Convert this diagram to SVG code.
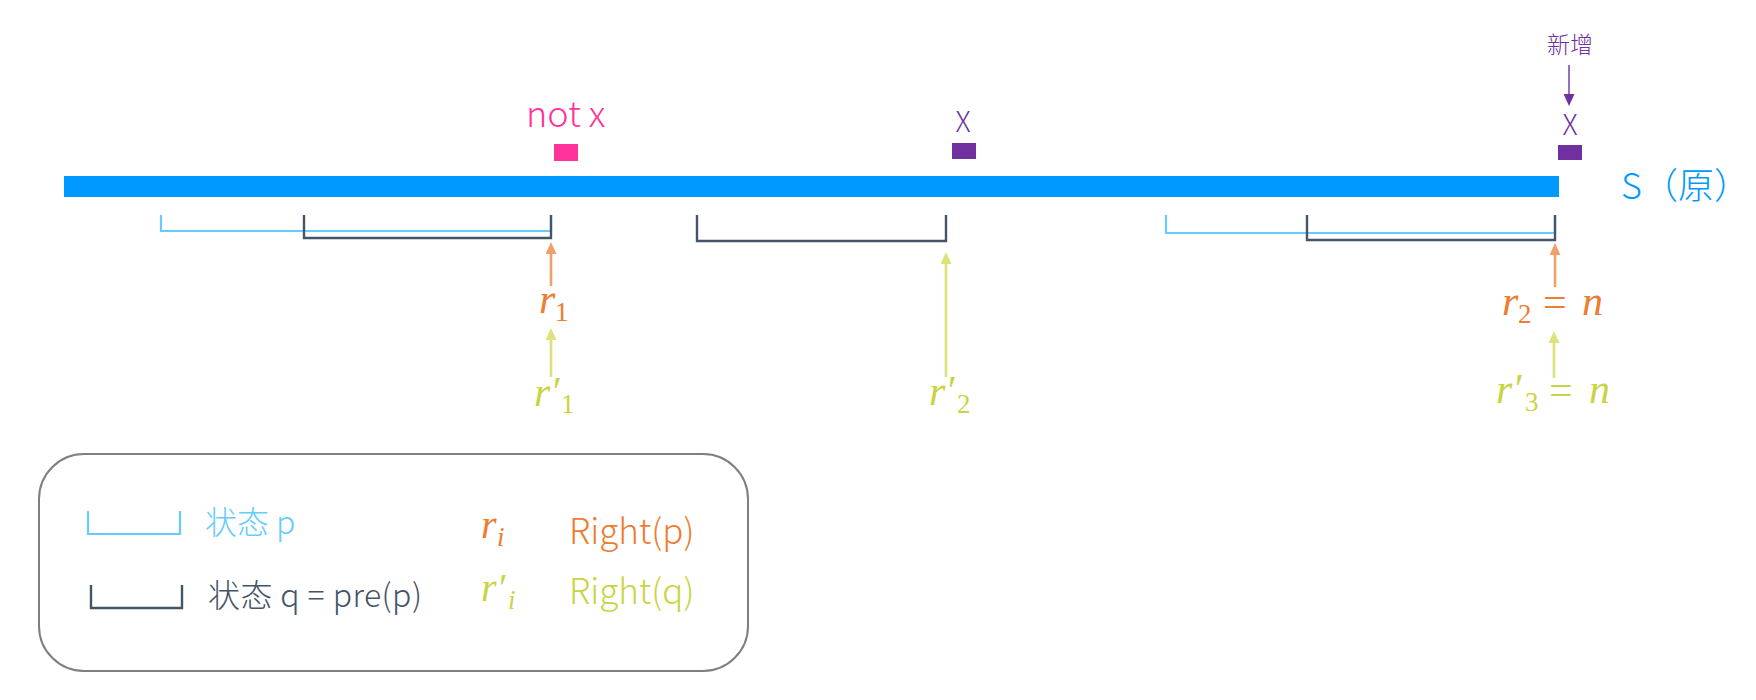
<svg xmlns="http://www.w3.org/2000/svg" width="1756" height="700" viewBox="0 0 1756 700">
<style>
.sans{font-family:"Noto Sans CJK SC","Noto Sans",sans-serif;font-weight:300}
.math{font-family:"Liberation Serif","DejaVu Serif",serif;font-style:italic}
.sub{font-family:"Liberation Serif","DejaVu Serif",serif;font-style:normal}
.or{fill:#ED7D31}
.gr{fill:#CAD443}
.pu{fill:#7030A0}
.bl{fill:none;stroke:#66CCFF;stroke-width:2.2}
.dk{fill:none;stroke:#44546A;stroke-width:2.4}
.ao{stroke:#F2A06B;stroke-width:2.6;fill:none}
.ag{stroke:#DDE27A;stroke-width:2.6;fill:none}
.ap{stroke:#7030A0;stroke-width:1.4;fill:none}
</style>
<defs>
<marker id="hO" viewBox="0 0 12 11" markerWidth="12" markerHeight="11" refX="6" refY="5.5" orient="auto" markerUnits="userSpaceOnUse"><path d="M0,0 L12,5.5 L0,11 z" fill="#F2A06B"/></marker>
<marker id="hG" viewBox="0 0 12 11" markerWidth="12" markerHeight="11" refX="6" refY="5.5" orient="auto" markerUnits="userSpaceOnUse"><path d="M0,0 L12,5.5 L0,11 z" fill="#DDE27A"/></marker>
<marker id="hP" viewBox="0 0 12 11" markerWidth="12" markerHeight="11" refX="6" refY="5.5" orient="auto" markerUnits="userSpaceOnUse"><path d="M0,0 L12,5.5 L0,11 z" fill="#7030A0"/></marker>
</defs>
<rect width="1756" height="700" fill="#FFFFFF"/>

<g id="string-S">
<rect x="64" y="176" width="1495" height="21" fill="#0099FF"/>
<text x="1621" y="199" class="sans" font-size="36" fill="#0099FF">S（原）</text>
</g>

<g id="mark-notx">
<text x="526" y="127" class="sans" font-size="36" fill="#FF3399">not x</text>
<rect x="554" y="144" width="24" height="17" fill="#FF3399"/>
</g>

<g id="mark-x-mid">
<text x="963" y="132" class="sans pu" font-size="28" text-anchor="middle">X</text>
<rect x="952" y="143" width="24" height="16" fill="#7030A0"/>
</g>

<g id="mark-x-new">
<text x="1570" y="53" class="sans pu" font-size="23" text-anchor="middle">新增</text>
<text x="1570" y="135" class="sans pu" font-size="28" text-anchor="middle">X</text>
<rect x="1558" y="145" width="24" height="15" fill="#7030A0"/>
</g>

<g id="brackets">
<path class="bl" d="M161,215 V231 H551 V215"/>
<path class="dk" d="M304,215 V238 H551 V215"/>
<path class="dk" d="M697,215 V241 H946 V215"/>
<path class="bl" d="M1166,215 V233 H1555 V215"/>
<path class="dk" d="M1307,215 V240 H1555 V215"/>
</g>

<g id="connectors">
<line class="ap" x1="1569" y1="65" x2="1569" y2="100" marker-end="url(#hP)"/>
<line class="ao" x1="551" y1="286" x2="551" y2="248" marker-end="url(#hO)"/>
<line class="ag" x1="551" y1="377" x2="551" y2="334" marker-end="url(#hG)"/>
<line class="ag" x1="946" y1="377" x2="946" y2="258" marker-end="url(#hG)"/>
<line class="ao" x1="1555" y1="287" x2="1555" y2="249" marker-end="url(#hO)"/>
<line class="ag" x1="1554" y1="378" x2="1554" y2="337" marker-end="url(#hG)"/>
</g>

<g id="label-r1">
<text class="or"><tspan class="math" x="539" y="313" font-size="42">r</tspan><tspan class="sub" x="555" y="321" font-size="27">1</tspan></text>
</g>
<g id="label-rp1">
<text class="gr"><tspan class="math" x="534" y="406" font-size="42">r′</tspan><tspan class="sub" x="561" y="413" font-size="27">1</tspan></text>
</g>
<g id="label-rp2">
<text class="gr"><tspan class="math" x="929" y="405" font-size="42">r′</tspan><tspan class="sub" x="957" y="413" font-size="27">2</tspan></text>
</g>
<g id="label-r2">
<text class="or"><tspan class="math" x="1502" y="315" font-size="42">r</tspan><tspan class="sub" x="1518" y="323" font-size="27">2</tspan><tspan class="sub" x="1543" y="316" font-size="42">=</tspan><tspan class="math" x="1582" y="315" font-size="42">n</tspan></text>
</g>
<g id="label-rp3">
<text class="gr"><tspan class="math" x="1496" y="403" font-size="42">r′</tspan><tspan class="sub" x="1525" y="411" font-size="27">3</tspan><tspan class="sub" x="1549" y="404" font-size="42">=</tspan><tspan class="math" x="1589" y="403" font-size="42">n</tspan></text>
</g>

<g id="legend">
<rect x="39" y="454" width="709" height="217" rx="45" ry="45" fill="none" stroke="#7F7F7F" stroke-width="2"/>
<path class="bl" d="M88,511 V534 H180 V511"/>
<text x="205" y="534" class="sans" font-size="32" fill="#66CCFF">状态 p</text>
<path class="dk" d="M91,585 V608 H182 V585"/>
<text x="208" y="607" class="sans" font-size="32" fill="#44546A" textLength="214">状态 q = pre(p)</text>
<text class="or"><tspan class="math" x="481" y="538" font-size="40">r</tspan><tspan class="math" x="497" y="546" font-size="27">i</tspan></text>
<text x="569" y="544" class="sans or" font-size="35">Right(p)</text>
<text class="gr"><tspan class="math" x="481" y="601" font-size="40">r′</tspan><tspan class="math" x="508" y="609" font-size="27">i</tspan></text>
<text x="569" y="604" class="sans gr" font-size="35">Right(q)</text>
</g>
</svg>
